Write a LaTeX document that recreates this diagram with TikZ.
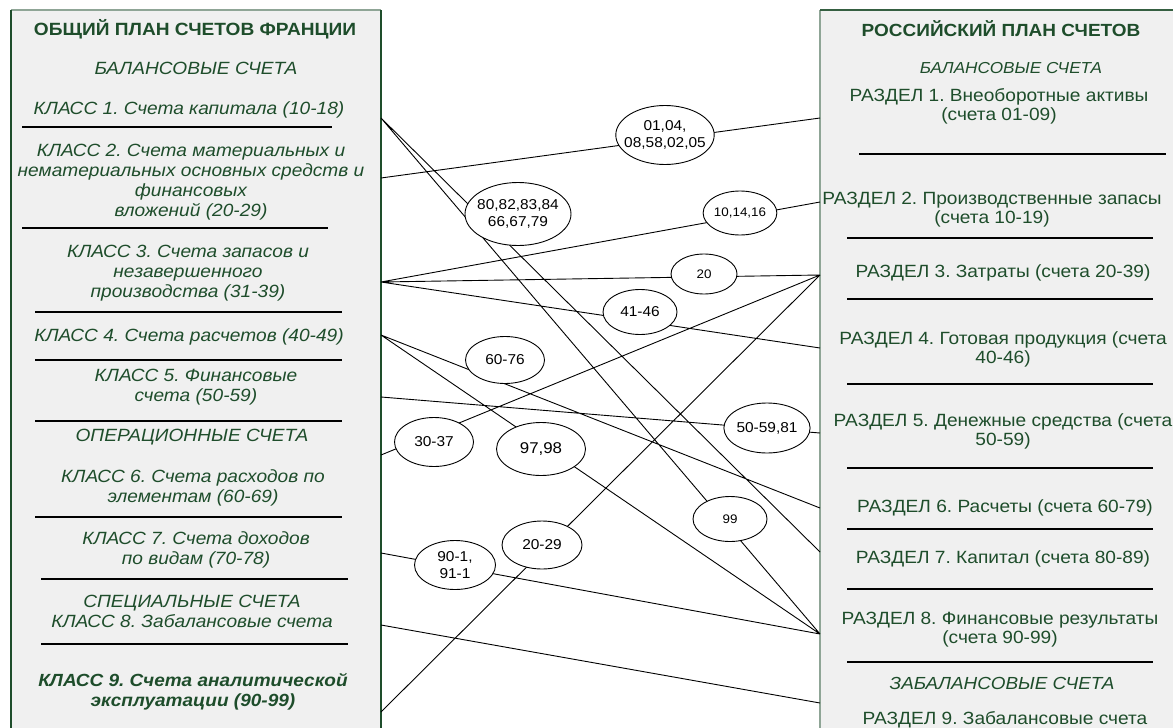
\documentclass[tikz,border=0pt]{standalone}
\usepackage{fontspec}
\setmainfont{Liberation Sans}[FakeStretch=1.08]
\usetikzlibrary{shapes.geometric}
\definecolor{plangreen}{HTML}{1E4D2B}
\definecolor{boxgray}{HTML}{F0F0F0}
\definecolor{edgegray}{HTML}{8FA596}
\frenchspacing
\begin{document}
\begin{tikzpicture}[x=1pt,y=-1pt,
	ltxt/.style={text=plangreen,align=center,inner sep=0pt,font=\fontsize{17.7}{20}\selectfont\itshape},
	rtxt/.style={text=plangreen,align=center,inner sep=0pt,font=\fontsize{17.7}{19}\selectfont},
	sep/.style={line width=1.6pt},
	acc/.style={ellipse,draw,fill=white,inner sep=0pt,line width=0.9pt,align=center,font=\fontsize{14.3}{17}\selectfont}]
	\clip (0,0) rectangle (1173,728);
	\fill[boxgray] (11,10) rectangle (381,740) (820,10) rectangle (1180,740);
	\draw[edgegray,line width=1.2pt] (11,10)--(381,10);
	\draw[plangreen,line width=1.8pt] (11,740)--(11,10) (381,10)--(381,740);
	\draw[edgegray,line width=2pt] (820,740)--(820,10);
	\draw[plangreen!80!edgegray,line width=1.4pt] (820,10)--(1180,10);
	\node[ltxt,font=\fontsize{17.7}{20}\selectfont\bfseries] (fr) at (195,29) {ОБЩИЙ ПЛАН СЧЕТОВ ФРАНЦИИ};
	\node[ltxt] (fbal) at (196,68) {БАЛАНСОВЫЕ СЧЕТА};
	\node[ltxt] (k1) at (189,110) {КЛАСС 1. Счета капитала (10-18)};
	\node[ltxt] (k2) at (191,182) {КЛАСС 2. Счета материальных и\\нематериальных основных средств и\\финансовых\\вложений (20-29)};
	\node[ltxt] (k3) at (188,273) {КЛАСС 3. Счета запасов и\\незавершенного\\производства (31-39)};
	\node[ltxt] (k4) at (189,337) {КЛАСС 4. Счета расчетов (40-49)};
	\node[ltxt] (k5) at (196,387) {КЛАСС 5. Финансовые\\счета (50-59)};
	\node[ltxt] (fop) at (192,437) {ОПЕРАЦИОННЫЕ СЧЕТА};
	\node[ltxt] (k6) at (193,488) {КЛАСС 6. Счета расходов по\\элементам (60-69)};
	\node[ltxt] (k7) at (196,550) {КЛАСС 7. Счета доходов\\по видам (70-78)};
	\node[ltxt] (k8) at (192,611) {СПЕЦИАЛЬНЫЕ СЧЕТА\\КЛАСС 8. Забалансовые счета};
	\node[ltxt,font=\fontsize{17.6}{20}\selectfont\bfseries\itshape] (k9) at (193,692) {КЛАСС 9. Счета аналитической\\эксплуатации (90-99)};
	\draw[sep] (22,127)--(332,127) (22,228)--(328,228) (35,312)--(342,312) (35,360)--(342,360) (35,421)--(342,421) (35,517)--(342,517) (41,579)--(348,579) (41,644)--(348,644);
	\node[rtxt,font=\fontsize{17.6}{20}\selectfont\bfseries] (ru) at (1001,29) {РОССИЙСКИЙ ПЛАН СЧЕТОВ};
	\node[rtxt,font=\fontsize{15.9}{19}\selectfont\itshape] (rbal) at (1011,68) {БАЛАНСОВЫЕ СЧЕТА};
	\node[rtxt] (r1) at (999,106.5) {РАЗДЕЛ 1. Внеоборотные активы\\(счета 01-09)};
	\node[rtxt] (r2) at (992,210) {РАЗДЕЛ 2. Производственные запасы\\(счета 10-19)};
	\node[rtxt] (r3) at (1003,273) {РАЗДЕЛ 3. Затраты (счета 20-39)};
	\node[rtxt] (r4) at (1003,349) {РАЗДЕЛ 4. Готовая продукция (счета\\40-46)};
	\node[rtxt] (r5) at (1003,431) {РАЗДЕЛ 5. Денежные средства (счета\\50-59)};
	\node[rtxt] (r6) at (1005,508) {РАЗДЕЛ 6. Расчеты (счета 60-79)};
	\node[rtxt] (r7) at (1003,559) {РАЗДЕЛ 7. Капитал (счета 80-89)};
	\node[rtxt] (r8) at (1000,629.5) {РАЗДЕЛ 8. Финансовые результаты\\(счета 90-99)};
	\node[rtxt,font=\fontsize{17.5}{19}\selectfont\itshape] (rzab) at (1002,683) {ЗАБАЛАНСОВЫЕ СЧЕТА};
	\node[rtxt] (r9) at (1005,720) {РАЗДЕЛ 9. Забалансовые счета};
	\draw[sep] (859,154)--(1166,154) (847,238)--(1153,238) (847,299)--(1153,299) (847,384)--(1153,384) (847,468)--(1153,468) (847,529)--(1153,529) (847,589)--(1153,589) (847,662)--(1153,662);
	\coordinate (a1) at (381,118);
	\coordinate (a2) at (381,178);
	\coordinate (a3) at (381,282);
	\coordinate (a4) at (381,335);
	\coordinate (a5) at (381,397);
	\coordinate (a6) at (381,455);
	\coordinate (a7) at (381,553);
	\coordinate (a8) at (381,625);
	\coordinate (a9) at (381,712);
	\coordinate (b1) at (820,118);
	\coordinate (b2) at (820,202);
	\coordinate (b3) at (820,275);
	\coordinate (b4) at (820,348);
	\coordinate (b5) at (820,433);
	\coordinate (b6) at (820,508);
	\coordinate (b7) at (820,552);
	\coordinate (b8) at (820,634);
	\coordinate (b9) at (820,703);
	\draw[line width=0.9pt] (a1)--(b7) (a1)--(b8) (a2)--(b1) (a3)--(b2) (a3)--(b3) (a3)--(b4) (a4)--(b6) (a4)--(b8) (a5)--(b5) (a6)--(b3) (a7)--(b8) (a8)--(b9) (a9)--(b3);
	\node[acc,minimum width=97,minimum height=59,inner xsep=-6pt] (e1) at (665,135) {01,04,\\08,58,02,05};
	\node[acc,minimum width=106,minimum height=63,inner xsep=-4pt] (e2) at (518,214) {80,82,83,84\\66,67,79};
	\node[acc,minimum width=72,minimum height=44,font=\fontsize{12.4}{15}\selectfont] (e3) at (740,213) {10,14,16};
	\node[acc,minimum width=66,minimum height=40,font=\fontsize{12.4}{15}\selectfont] (e4) at (704,274) {20};
	\node[acc,minimum width=74,minimum height=45] (e5) at (640,312) {41-46};
	\node[acc,minimum width=79,minimum height=47] (e6) at (505,360) {60-76};
	\node[acc,minimum width=79,minimum height=49] (e7) at (434,442) {30-37};
	\node[acc,minimum width=89,minimum height=53,font=\fontsize{15.6}{18}\selectfont] (e8) at (541,449) {97,98};
	\node[acc,minimum width=80,minimum height=50] (e9) at (767,428) {50-59,81};
	\node[acc,minimum width=74,minimum height=45,font=\fontsize{12.4}{15}\selectfont] (e10) at (730,519) {99};
	\node[acc,minimum width=80,minimum height=48] (e11) at (542,545) {20-29};
	\node[acc,minimum width=81,minimum height=49] (e12) at (455,565) {90-1,\\91-1};
\end{tikzpicture}
\end{document}
